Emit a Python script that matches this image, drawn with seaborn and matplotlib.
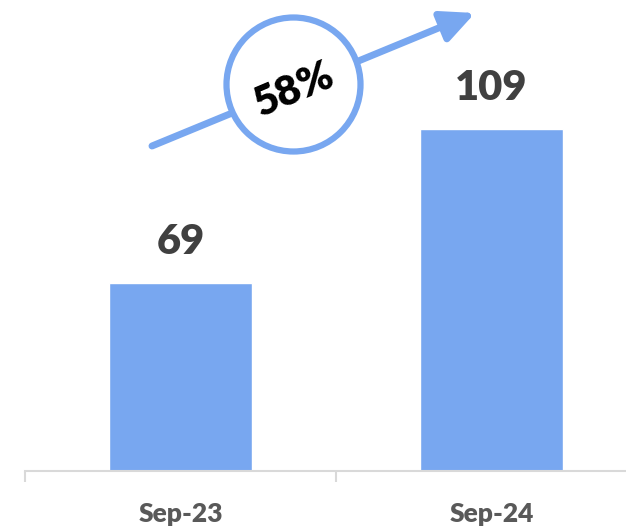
import matplotlib
matplotlib.use("Agg")
import matplotlib.pyplot as plt
from matplotlib.patches import Ellipse, FancyArrowPatch
import seaborn as sns
import pandas as pd

# --- datos ---
periodos = ["Sep-23", "Sep-24"]
valores = [69, 109]
crecimiento = "58%"

BAR = "#78A7F0"
GRIS_TXT = "#404040"
GRIS_EJE = "#D9D9D9"

sns.set_theme(style="white")
plt.rcParams["font.family"] = ["Lato", "DejaVu Sans"]

W, H = 626, 529
fig = plt.figure(figsize=(W / 100, H / 100), dpi=100)
# el eje sobresale por la derecha (recortado como en el original)
ax = fig.add_axes([25 / W, 58.5 / H, 622 / W, 470.5 / H])

df = pd.DataFrame({"periodo": periodos, "valor": valores})
sns.barplot(data=df, x="periodo", y="valor", color=BAR, saturation=1,
            width=0.457, ax=ax)

ax.set_xlim(-0.5, 1.5)
ax.set_ylim(20.4, 142.6)
ax.set_xlabel("")
ax.set_ylabel("")
ax.set_yticks([])
for s in ["top", "right", "left"]:
    ax.spines[s].set_visible(False)
ax.spines["bottom"].set_color(GRIS_EJE)
ax.spines["bottom"].set_linewidth(1.5)

ax.set_xticks([-0.5, 0.5, 1.5], minor=True)
ax.tick_params(axis="x", which="minor", length=8, width=1.5, color=GRIS_EJE, bottom=True)
ax.tick_params(axis="x", which="major", length=0, pad=23)
for lbl in ax.get_xticklabels():
    lbl.set_fontsize(19)
    lbl.set_fontweight("heavy")
    lbl.set_color("#595959")

ax.bar_label(ax.containers[0], padding=16, fontsize=30, fontweight="heavy", color=GRIS_TXT)

# --- flecha de crecimiento + círculo ---
def fx(px):
    return px / W

def fy(py):
    return 1 - py / H

arrow = FancyArrowPatch((fx(152), fy(146)), (fx(475), fy(13)), transform=fig.transFigure,
                        arrowstyle="-|>,head_length=2.0,head_width=0.95", mutation_scale=10,
                        color=BAR, lw=5, zorder=3, shrinkA=0, shrinkB=0)
fig.add_artist(arrow)

circ = Ellipse((fx(293.5), fy(84.5)), 2 * 67 / W, 2 * 67 / H, transform=fig.transFigure,
               facecolor="white", edgecolor=BAR, lw=4.5, zorder=4)
fig.add_artist(circ)
fig.text(fx(294), fy(90), crecimiento, rotation=23, ha="center", va="center",
         fontsize=30, fontweight="heavy", color="black", zorder=5, rotation_mode="anchor")

fig.savefig("out.png", dpi=100)
